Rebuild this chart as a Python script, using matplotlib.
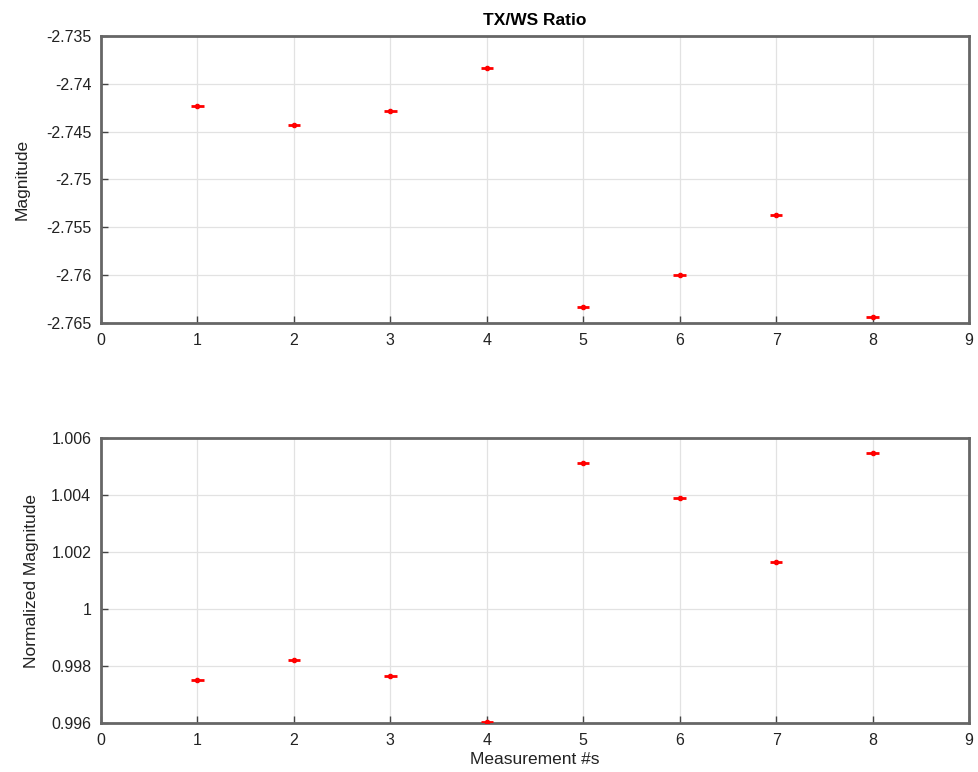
import matplotlib
matplotlib.use("Agg")
import matplotlib.pyplot as plt

plt.rcParams['font.family'] = ['Liberation Sans', 'DejaVu Sans']

measurements = [1, 2, 3, 4, 5, 6, 7, 8]
magnitude = [-2.7423, -2.7443, -2.7428, -2.7383, -2.7633, -2.7600, -2.7537, -2.7644]
normalized = [0.99751, 0.99821, 0.99765, 0.99604, 1.00512, 1.00389, 1.00165, 1.00547]
xerr = 0.065

fig = plt.figure(figsize=(9.79, 7.72), dpi=100)
ax1 = fig.add_axes([101/979, 1-323/772, 868/979, 287/772])
ax2 = fig.add_axes([101/979, 1-723/772, 868/979, 285/772])

def style(ax):
    ax.set_xlim(0, 9)
    ax.set_xticks(range(0, 10))
    ax.grid(True, color='#e2e2e2', linewidth=0.9)
    ax.set_axisbelow(True)
    ax.tick_params(direction='in', length=5, color='#444444', labelsize=11.5,
                   labelcolor='#222222', width=1, pad=7)
    for s in ax.spines.values():
        s.set_color('#666666')
        s.set_linewidth(2)

for ax, y in ((ax1, magnitude), (ax2, normalized)):
    ax.errorbar(measurements, y, xerr=xerr, fmt='o', color='red', ms=3,
                elinewidth=2, capsize=0, zorder=3)
    style(ax)

ax1.set_ylim(-2.765, -2.735)
ax1.set_yticks([-2.765, -2.76, -2.755, -2.75, -2.745, -2.74, -2.735])
ax1.set_yticklabels(['-2.765', '-2.76', '-2.755', '-2.75', '-2.745', '-2.74', '-2.735'])
ax1.set_ylabel('Magnitude', fontsize=12.5, color='#222222', labelpad=12)
ax1.set_title('TX/WS Ratio', fontsize=12.5, fontweight='bold', pad=8)

ax2.set_ylim(0.996, 1.006)
ax2.set_yticks([0.996, 0.998, 1.0, 1.002, 1.004, 1.006])
ax2.set_yticklabels(['0.996', '0.998', '1', '1.002', '1.004', '1.006'])
ax2.set_ylabel('Normalized Magnitude', fontsize=12.5, color='#222222', labelpad=9)
ax2.set_xlabel('Measurement #s', fontsize=12.5, color='#222222', labelpad=3)

fig.savefig('out.png', dpi=100)
